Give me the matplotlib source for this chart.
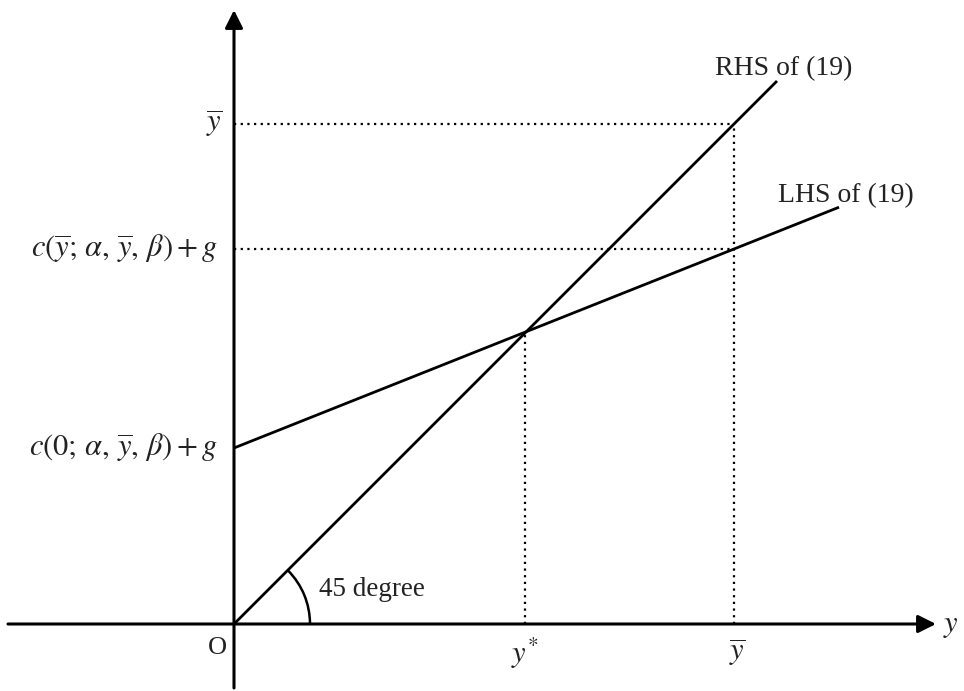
import matplotlib
matplotlib.use("Agg")
import matplotlib.pyplot as plt
from matplotlib.patches import Arc

plt.rcParams['font.family'] = 'Liberation Serif'
plt.rcParams['mathtext.fontset'] = 'stix'

# values (1 unit = 100 px, origin at O)
y_bar = 5.0        # upper bound of y
y_star = 2.91      # intersection
c_zero = 1.76      # c(0; a, ybar, b) + g
c_bar = 3.75       # c(ybar; a, ybar, b) + g
rhs_end = 5.43     # where the 45 degree line stops
lhs_end = 6.05     # where the LHS line stops
lhs_slope = (c_bar - c_zero) / y_bar

fig = plt.figure(figsize=(9.64, 6.91), dpi=100)
ax = fig.add_axes([0, 0, 1, 1])
ax.set_xlim(-2.34, 7.30)
ax.set_ylim(-0.67, 6.24)
ax.axis('off')

tc = '#222222'
arrow = dict(arrowstyle='-|>,head_length=0.4,head_width=0.2', lw=2.2, color='k',
             mutation_scale=27, shrinkA=0, shrinkB=0)
# axes with arrows
ax.annotate('', xy=(7.02, 0), xytext=(-2.26, 0), arrowprops=arrow)
ax.annotate('', xy=(0, 6.14), xytext=(0, -0.64), arrowprops=arrow)

# RHS (45 degree) and LHS lines
ax.plot([0, rhs_end], [0, rhs_end], color='k', lw=2, solid_capstyle='butt')
ax.plot([0, lhs_end], [c_zero, c_zero + lhs_slope * lhs_end], color='k', lw=2,
        solid_capstyle='butt')

# dotted guides
dot = dict(color='k', lw=1.6, linestyle=(0, (1, 2.0)))
ax.plot([0, y_bar], [y_bar, y_bar], **dot)
ax.plot([y_bar, y_bar], [0, y_bar], **dot)
ax.plot([0, y_bar], [c_bar, c_bar], **dot)
ax.plot([y_star, y_star], [0, y_star], **dot)

# 45 degree arc
ax.add_patch(Arc((0, 0), 1.52, 1.52, theta1=0, theta2=45, color='k', lw=1.8))
ax.text(0.85, 0.34, '45 degree', fontsize=19.5, color=tc, va='center', ha='left')

ybar_tex = r'\overline{y}'
# left labels
ax.text(-0.12, y_bar, '$' + ybar_tex + '$', fontsize=22, color=tc, ha='right', va='center')
ax.text(-0.16, c_bar, r'$c(' + ybar_tex + r';\,\alpha,\,' + ybar_tex + r',\,\beta)+g$',
        fontsize=22, color=tc, ha='right', va='center')
ax.text(-0.16, c_zero, r'$c(0;\,\alpha,\,' + ybar_tex + r',\,\beta)+g$',
        fontsize=22, color=tc, ha='right', va='center')

# bottom labels
ax.text(-0.17, -0.24, 'O', fontsize=19, color=tc, ha='center', va='center')
ax.text(y_star, -0.29, r'$y^{*}$', fontsize=22, color=tc, ha='center', va='center')
ax.text(y_bar + 0.03, -0.29, '$' + ybar_tex + '$', fontsize=22, color=tc, ha='center', va='center')
ax.text(7.09, -0.02, r'$y$', fontsize=22, color=tc, ha='left', va='center')

# line labels
ax.text(5.5, 5.49, 'RHS of (19)', fontsize=20, color=tc, ha='center', va='baseline')
ax.text(6.12, 4.22, 'LHS of (19)', fontsize=20, color=tc, ha='center', va='baseline')

fig.savefig('out.png', dpi=100)
